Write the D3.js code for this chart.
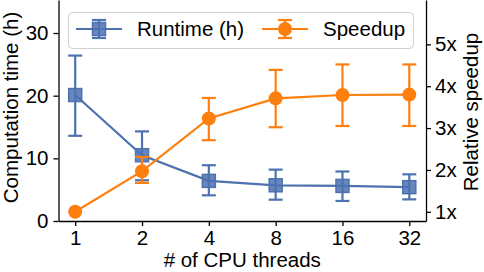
<!DOCTYPE html>
<html>
<head>
<meta charset="utf-8">
<script src="https://cdn.jsdelivr.net/npm/d3@7"></script>
<style>
	body { margin: 0; background: #fff; }
	text { font-family: "Liberation Sans", Arial, sans-serif; }
</style>
</head>
<body>
<div id="chart"></div>
<script>
// data
const threads = ["1", "2", "4", "8", "16", "32"];
const runtime = [20.1, 10.5, 6.4, 5.7, 5.6, 5.4];
const runtimeLo = [13.6, 6.5, 4.1, 3.4, 3.2, 3.45];
const runtimeHi = [26.4, 14.3, 8.9, 8.2, 7.9, 7.45];
const speedup = [1.0, 1.97, 3.23, 3.71, 3.79, 3.8];
const speedupLo = [1.0, 1.69, 2.71, 3.02, 3.05, 3.05];
const speedupHi = [1.0, 2.31, 3.72, 4.39, 4.52, 4.52];
const leftTicks = [0, 10, 20, 30];
const rightTicks = [1, 2, 3, 4, 5];

const W = 484, H = 272;
const blue = "#4c72b0", orange = "#ff7f0e";
const fontSize = 20.5;

const svg = d3.select("#chart").append("svg")
	.attr("width", W)
	.attr("height", H);

const mLeft = 58.5, mRight = 426, mTop = 0, mBottom = 221;

const x = d3.scaleLinear().domain([-0.25, threads.length - 0.75]).range([mLeft, mRight]);
const yL = d3.scaleLinear().domain([0, 35.27]).range([mBottom, mTop]);
const yR = d3.scaleLinear().domain([0.78, 6.06]).range([mBottom, mTop]);

// axes
const xAxis = svg.append("g")
	.attr("transform", `translate(0,${mBottom})`)
	.call(d3.axisBottom(x).tickValues(d3.range(threads.length)).tickFormat(i => threads[i]).tickSize(5).tickPadding(4).tickSizeOuter(0));
const lAxis = svg.append("g")
	.attr("transform", `translate(${mLeft},0)`)
	.call(d3.axisLeft(yL).tickValues(leftTicks).tickSize(5).tickPadding(5).tickSizeOuter(0));
const rAxis = svg.append("g")
	.attr("transform", `translate(${mRight},0)`)
	.call(d3.axisRight(yR).tickValues(rightTicks).tickFormat(d => d + "x").tickSize(5).tickPadding(4).tickSizeOuter(0));

[xAxis, lAxis, rAxis].forEach(a => {
	a.select(".domain").attr("stroke", "#000").attr("stroke-width", 1.3);
	a.selectAll(".tick line").attr("stroke", "#000").attr("stroke-width", 1.3);
	a.selectAll(".tick text")
		.attr("fill", "#000")
		.style("font-size", fontSize + "px")
		.style("font-family", "'Liberation Sans', Arial, sans-serif");
});
xAxis.selectAll(".tick text").attr("dy", "0.71em");

// axis titles
svg.append("text")
	.attr("x", (mLeft + mRight) / 2)
	.attr("y", 267)
	.attr("text-anchor", "middle")
	.style("font-size", fontSize + "px")
	.text("# of CPU threads");
svg.append("text")
	.attr("transform", `translate(18,${(mTop + mBottom) / 2 - 3}) rotate(-90)`)
	.attr("text-anchor", "middle")
	.style("font-size", fontSize + "px")
	.text("Computation time (h)");
svg.append("text")
	.attr("transform", `translate(478,${112}) rotate(-90)`)
	.attr("text-anchor", "middle")
	.style("font-size", fontSize + "px")
	.text("Relative speedup");

const cap = 7;

function drawSeries(vals, lo, hi, y, color, marker) {
	const g = svg.append("g");
	const line = d3.line().x((d, i) => x(i)).y(d => y(d));
	g.append("path")
		.datum(vals)
		.attr("d", line)
		.attr("fill", "none")
		.attr("stroke", color)
		.attr("stroke-width", 2.2);
	vals.forEach((v, i) => {
		if (hi[i] - lo[i] > 0.01) {
			const cx = x(i);
			g.append("line").attr("x1", cx).attr("x2", cx).attr("y1", y(lo[i])).attr("y2", y(hi[i]))
				.attr("stroke", color).attr("stroke-width", 2.2);
			[lo[i], hi[i]].forEach(e => {
				g.append("line").attr("x1", cx - cap).attr("x2", cx + cap).attr("y1", y(e)).attr("y2", y(e))
					.attr("stroke", color).attr("stroke-width", 2.2);
			});
		}
		marker(g, x(i), y(v));
	});
}

function square(g, cx, cy) {
	g.append("rect")
		.attr("x", cx - 6.5).attr("y", cy - 6.5)
		.attr("width", 13).attr("height", 13)
		.attr("fill", blue).attr("fill-opacity", 0.85)
		.attr("stroke", blue).attr("stroke-width", 1.5);
}
function circle(g, cx, cy) {
	g.append("circle")
		.attr("cx", cx).attr("cy", cy).attr("r", 7)
		.attr("fill", orange);
}

drawSeries(runtime, runtimeLo, runtimeHi, yL, blue, square);
drawSeries(speedup, speedupLo, speedupHi, yR, orange, circle);

// legend
const leg = svg.append("g");
leg.append("rect")
	.attr("x", 68.5).attr("y", 12.5).attr("width", 345).attr("height", 36)
	.attr("rx", 4)
	.attr("fill", "#fff").attr("fill-opacity", 0.8)
	.attr("stroke", "#d0d0d0").attr("stroke-width", 1);
const legItems = [
	{ label: "Runtime (h)", color: blue, marker: square, x0: 76 },
	{ label: "Speedup", color: orange, marker: circle, x0: 262 }
];
legItems.forEach(it => {
	const cy = 29, cx = it.x0 + 23;
	leg.append("line").attr("x1", it.x0).attr("x2", it.x0 + 46).attr("y1", cy).attr("y2", cy)
		.attr("stroke", it.color).attr("stroke-width", 2.2);
	leg.append("line").attr("x1", cx).attr("x2", cx).attr("y1", cy - 9).attr("y2", cy + 9)
		.attr("stroke", it.color).attr("stroke-width", 2.2);
	[cy - 9, cy + 9].forEach(e => {
		leg.append("line").attr("x1", cx - cap).attr("x2", cx + cap).attr("y1", e).attr("y2", e)
			.attr("stroke", it.color).attr("stroke-width", 2.2);
	});
	it.marker(leg, cx, cy);
	leg.append("text")
		.attr("x", it.x0 + 61)
		.attr("y", cy + 7)
		.style("font-size", fontSize + "px")
		.text(it.label);
});
</script>
</body>
</html>
